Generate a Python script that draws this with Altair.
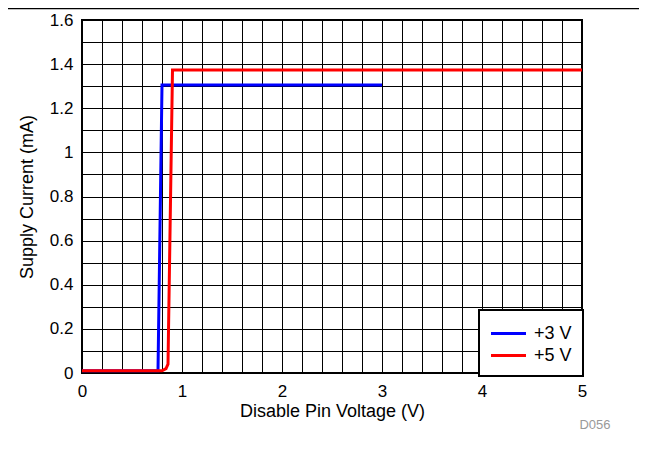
import altair as alt
import pandas as pd

# Series data
v3_x = [0.0, 0.76, 0.80, 3.0]
v3_y = [0.01, 0.01, 1.305, 1.305]
v5_x = [0.0, 0.80, 0.84, 0.86, 0.905, 5.0]
v5_y = [0.01, 0.01, 0.02, 0.04, 1.373, 1.373]
series_names = ["+3 V", "+5 V"]
series_colors = ["#0000FF", "#FF0000"]

x_ticks = [round(i * 0.2, 1) for i in range(26)]
y_ticks = [round(i * 0.1, 1) for i in range(17)]

rows = []
for i, (x, y) in enumerate(zip(v3_x, v3_y)):
    rows.append({"v": x, "i": y, "s": series_names[0], "o": i})
for i, (x, y) in enumerate(zip(v5_x, v5_y)):
    rows.append({"v": x, "i": y, "s": series_names[1], "o": i})
df = pd.DataFrame(rows)

FONT = "Liberation Sans"

lines = alt.Chart(df).mark_line(strokeWidth=3, interpolate="linear").encode(
    x=alt.X("v:Q", scale=alt.Scale(domain=[0, 5], nice=False, zero=False),
            axis=alt.Axis(values=x_ticks, title="Disable Pin Voltage (V)",
                          labelExpr="abs(datum.value - round(datum.value)) < 1e-6 ? format(datum.value, '~g') : ''",
                          labelPadding=10, titlePadding=3)),
    y=alt.Y("i:Q", scale=alt.Scale(domain=[0, 1.6], nice=False),
            axis=alt.Axis(values=y_ticks, title="Supply Current (mA)",
                          labelExpr="round(datum.value * 10) % 2 == 0 ? format(datum.value, '~g') : ''",
                          labelPadding=9, titlePadding=13)),
    color=alt.Color("s:N", scale=alt.Scale(domain=series_names, range=series_colors),
                    legend=alt.Legend(title=None, orient="none", legendX=397, legendY=290,
                                      strokeColor="black", fillColor="white", padding=11,
                                      symbolType="M-1.045,0L2.136,0", symbolSize=484, symbolStrokeWidth=3,
                                      labelFontSize=18, labelFont=FONT, labelColor="black",
                                      rowPadding=0, labelOffset=19)),
    order="o:Q",
)

note = alt.Chart(pd.DataFrame({"t": ["D056"]})).mark_text(
    font=FONT, fontSize=13, color="#999999", align="center", baseline="middle"
).encode(x=alt.value(513), y=alt.value(405), text="t:N")

topline = alt.Chart(pd.DataFrame({"a": [0]})).mark_rule(color="black", strokeWidth=1.5).encode(
    x=alt.value(-74), x2=alt.value(565), y=alt.value(-11.5),
)

chart = alt.layer(lines, note, topline).properties(
    width=500, height=353,
    autosize=alt.AutoSizeParams(type="none"),
    padding={"left": 74, "top": 12, "right": 57, "bottom": 81},
).configure_view(
    stroke="black", strokeWidth=2
).configure_axis(
    grid=True, gridColor="black", gridWidth=1, gridOpacity=1,
    domain=False, ticks=False,
    labelFont=FONT, labelFontSize=17, labelColor="black",
    titleFont=FONT, titleFontSize=18, titleFontWeight="normal", titleColor="black",
    labelFlush=False, labelOverlap=False,
).configure_legend(
    strokeWidth=2
)

chart.save("out.html", embed_options={"renderer": "svg", "actions": False})
